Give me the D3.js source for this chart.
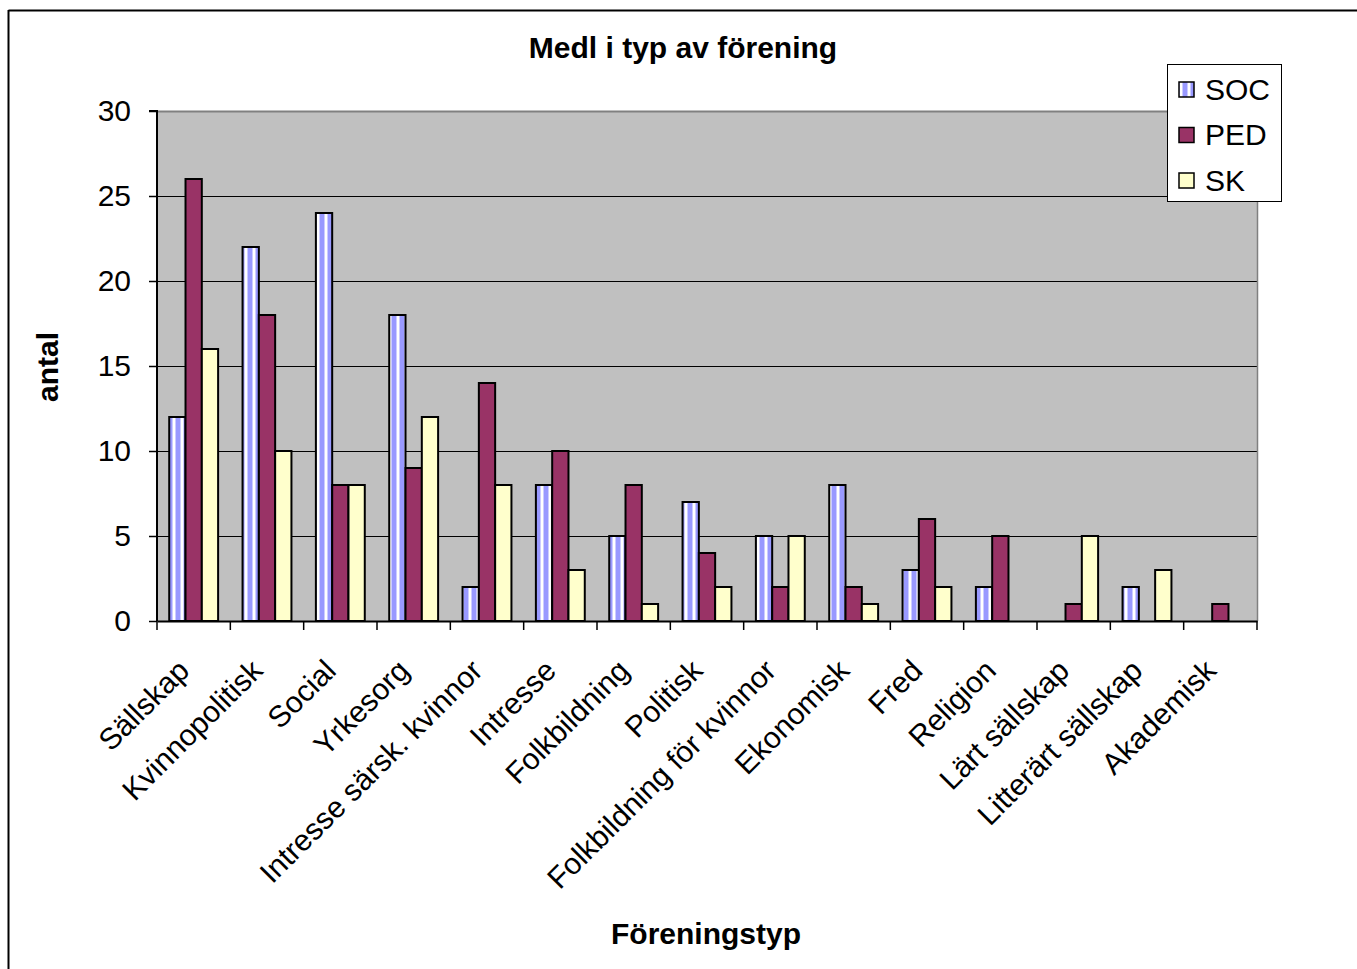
<!DOCTYPE html>
<html><head><meta charset="utf-8">
<script src="https://cdn.jsdelivr.net/npm/d3@7/dist/d3.min.js"></script>
<style>body{margin:0;background:#fff}svg{display:block}</style>
</head><body>
<script>
const categories = ["Sällskap","Kvinnopolitisk","Social","Yrkesorg","Intresse särsk. kvinnor","Intresse","Folkbildning","Politisk","Folkbildning för kvinnor","Ekonomisk","Fred","Religion","Lärt sällskap","Litterärt sällskap","Akademisk"];
const seriesNames = ["SOC","PED","SK"];
const soc = [12,22,24,18,2,8,5,7,5,8,3,2,0,2,0];
const ped = [26,18,8,9,14,10,8,4,2,2,6,5,1,0,1];
const sk  = [16,10,8,12,8,3,1,2,5,1,2,0,5,3,0];
const yTicks = [0,5,10,15,20,25,30];
const title = "Medl i typ av förening";
const xTitle = "Föreningstyp";
const yTitle = "antal";

const W = 1357, H = 969;
const font = "'Liberation Sans', Arial, sans-serif";
const FS = 30;
const svg = d3.select("body").append("svg").attr("width", W).attr("height", H);
const defs = svg.append("defs");
const pat = defs.append("pattern").attr("id","stripes").attr("patternUnits","userSpaceOnUse")
  .attr("width",8).attr("height",8).attr("x",1);
pat.append("rect").attr("width",8).attr("height",8).attr("fill","#9999FF");
pat.append("rect").attr("x",3).attr("width",1).attr("height",8).attr("fill","#CCCCFF");
pat.append("rect").attr("x",4).attr("width",2).attr("height",8).attr("fill","#FFFFFF");
pat.append("rect").attr("x",6).attr("width",1).attr("height",8).attr("fill","#CCCCFF");

svg.append("line").attr("x1",8.5).attr("y1",10.5).attr("x2",W).attr("y2",10.5).attr("stroke","#000").attr("stroke-width",2);
svg.append("line").attr("x1",8.5).attr("y1",10).attr("x2",8.5).attr("y2",H).attr("stroke","#000").attr("stroke-width",2);

const pL = 157, pR = 1257, pT = 111, pB = 621;
const x = d3.scaleBand().domain(categories).range([pL, pR]).paddingInner(0).paddingOuter(0);
const y = d3.scaleLinear().domain([0,30]).range([pB, pT]);
const inner = d3.scaleBand().domain(seriesNames).range([x.bandwidth()/6, x.bandwidth()*5/6]);

svg.append("rect").attr("x",pL).attr("y",pT).attr("width",pR-pL).attr("height",pB-pT).attr("fill","#C0C0C0");
svg.append("g").selectAll("line").data(yTicks.filter(d=>d>0)).join("line")
  .attr("x1",pL).attr("x2",pR).attr("y1",d=>Math.round(y(d))+0.5).attr("y2",d=>Math.round(y(d))+0.5)
  .attr("stroke",d=>d===30?"#808080":"#000").attr("stroke-width",d=>d===30?2:1.2);
svg.append("line").attr("x1",pR+0.5).attr("x2",pR+0.5).attr("y1",pT).attr("y2",pB).attr("stroke","#808080").attr("stroke-width",1.5);

const data = categories.map((c,i)=>({c, vals:[{s:"SOC",v:soc[i]},{s:"PED",v:ped[i]},{s:"SK",v:sk[i]}]}));
const fills = {SOC:"url(#stripes)", PED:"#993366", SK:"#FFFFCC"};
const g = svg.append("g");
data.forEach(d=>{
  g.selectAll(null).data(d.vals.filter(e=>e.v>0)).join("rect")
    .attr("x",e=>x(d.c)+inner(e.s))
    .attr("width",inner.bandwidth())
    .attr("y",e=>y(e.v))
    .attr("height",e=>y(0)-y(e.v))
    .attr("fill",e=>fills[e.s]).attr("stroke","#000").attr("stroke-width",2);
});

const yAxis = svg.append("g").attr("transform",`translate(${pL},0)`)
  .call(d3.axisLeft(y).tickValues(yTicks).tickSize(8).tickPadding(18));
yAxis.select(".domain").attr("stroke","#000").attr("stroke-width",2).attr("d",`M-8,${pT}H0V${pB}`);
yAxis.selectAll(".tick line").attr("stroke","#000").attr("stroke-width",1.5);
yAxis.selectAll("text").attr("font-family",font).attr("font-size",FS).attr("fill","#000");

const xAxis = svg.append("g").attr("transform",`translate(0,${pB})`)
  .call(d3.axisBottom(x).tickSize(0).tickFormat(""));
xAxis.select(".domain").attr("stroke","#000").attr("stroke-width",2);
const edges = categories.map(c=>x(c)).concat([pR]);
xAxis.selectAll("line.edge").data(edges).join("line").attr("class","edge")
  .attr("x1",d=>d).attr("x2",d=>d).attr("y1",0).attr("y2",9).attr("stroke","#000").attr("stroke-width",1.5);
xAxis.selectAll("text.lab").data(categories).join("text").attr("class","lab")
  .attr("transform",c=>`translate(${x(c)+x.bandwidth()/2-10},${44}) rotate(-45)`)
  .attr("text-anchor","end").attr("dy","0.35em")
  .attr("font-family",font).attr("font-size",FS).attr("fill","#000").text(c=>c);

svg.append("text").attr("x",683).attr("y",58).attr("text-anchor","middle")
  .attr("font-family",font).attr("font-weight","bold").attr("font-size",FS).text(title);
svg.append("text").attr("x",706).attr("y",944).attr("text-anchor","middle")
  .attr("font-family",font).attr("font-weight","bold").attr("font-size",FS).text(xTitle);
svg.append("text").attr("transform","translate(58,367) rotate(-90)").attr("text-anchor","middle")
  .attr("font-family",font).attr("font-weight","bold").attr("font-size",FS).text(yTitle);

const lg = svg.append("g").attr("transform","translate(1167,64)");
lg.append("rect").attr("x",0.5).attr("y",0.5).attr("width",114).attr("height",137).attr("fill","#fff").attr("stroke","#000").attr("stroke-width",1);
seriesNames.forEach((s,i)=>{
  const cy = 25 + i*45.5;
  lg.append("rect").attr("x",12).attr("y",cy-7).attr("width",15).attr("height",15).attr("fill",fills[s]).attr("stroke","#000").attr("stroke-width",1.5);
  lg.append("text").attr("x",38).attr("y",cy).attr("dy","0.36em").attr("font-family",font).attr("font-size",FS).text(s);
});
</script>
</body></html>
